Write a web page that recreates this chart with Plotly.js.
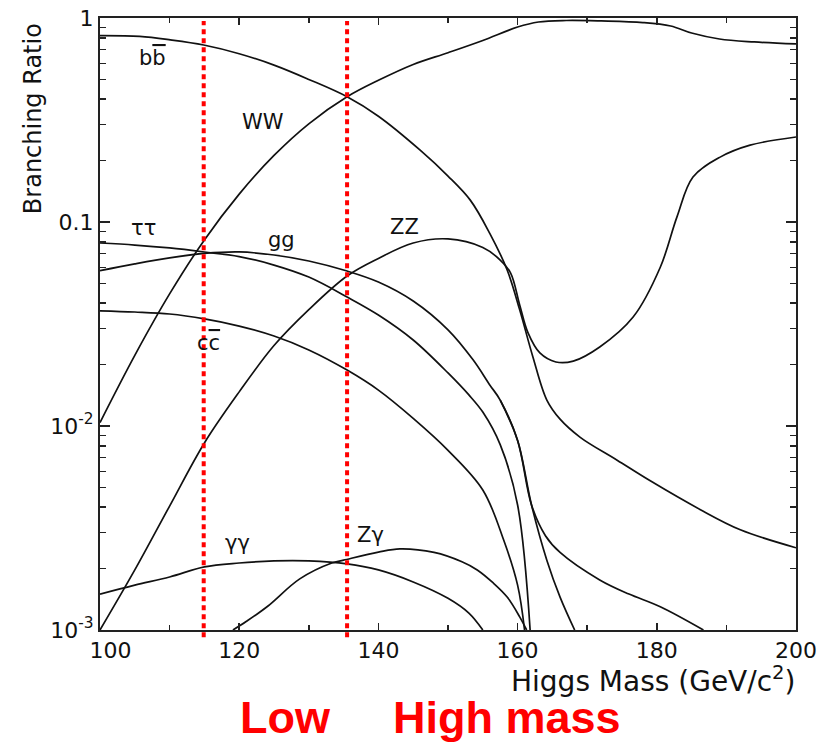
<!DOCTYPE html>
<html>
<head>
<meta charset="utf-8">
<script src="https://cdn.plot.ly/plotly-3.0.1.min.js"></script>
<style>html,body{margin:0;padding:0;background:#fff;}#chart{width:830px;height:743px;}</style>
</head>
<body>
<div id="chart"></div>
<script>
// Higgs mass (GeV/c^2) and branching ratios
const bbX = [100,105.7,110.1,114.9,120,125.1,130,135.5,140,146,150,153.2,156,158.5,160.3,162.2,164.2,166.1,169,174.3,179,186.2,192,200];
const bbY = [0.819,0.812,0.781,0.737,0.668,0.586,0.50,0.411,0.33,0.225,0.168,0.128,0.088,0.0582,0.0371,0.0218,0.0134,0.0108,0.0088,0.0068,0.0054,0.0039,0.0031,0.00253];

const wwX = [100,105,110,115,120,125,130,135.5,140,145,150,155,160,163,167,172,178,182,185,189,194,200];
const wwY = [0.0104,0.0222,0.0444,0.0817,0.137,0.212,0.303,0.411,0.495,0.592,0.676,0.776,0.903,0.956,0.972,0.967,0.95,0.914,0.844,0.789,0.763,0.746];

const zzX = [100,105,110,115,120,125,130,135.5,140,145,150,155,157.5,159,160.3,161.5,163.2,165.5,168,171.8,176.6,180.5,182.9,185.2,189.1,193.4,200];
const zzY = [0.001,0.00197,0.00405,0.00826,0.0147,0.0248,0.0372,0.0544,0.0663,0.0789,0.0826,0.075,0.0651,0.0562,0.0392,0.0286,0.0228,0.0206,0.0208,0.0244,0.0342,0.060,0.106,0.166,0.208,0.238,0.261];

const tautauX = [100,105,110,115,120,125,130,135.5,140,145,150,153,155,157.5,160,161.8];
const tautauY = [0.0789,0.0771,0.0746,0.0713,0.0677,0.0615,0.0537,0.0429,0.035,0.0264,0.0182,0.0142,0.0117,0.0081,0.0041,0.001];

const ggX = [100,105,110,115,120,125,130,135.5,140,145,150,153.6,156,157.5,160,162,164.2,166.1,168.2];
const ggY = [0.0577,0.0623,0.0667,0.0701,0.0713,0.0689,0.0644,0.0575,0.0508,0.041,0.0296,0.0211,0.0159,0.0134,0.0085,0.0041,0.0022,0.00145,0.001];

// branch that leaves the gg curve near 162 GeV and runs out to ~187 GeV
const tailX = [157.5,160,162,164,166.1,171.8,176,180.5,186.7];
const tailY = [0.0134,0.0085,0.0041,0.0029,0.0024,0.00176,0.0015,0.0013,0.001];

const ccX = [100,105,110,115,120,125,130,135.5,140,145,150,155,158,160,161];
const ccY = [0.0367,0.0362,0.0354,0.0335,0.0309,0.0276,0.0236,0.0188,0.015,0.0109,0.0076,0.00486,0.00276,0.00166,0.001];

const gamgamX = [100,105,110,115,120,125,130,135.5,140,145,150,153,155];
const gamgamY = [0.0015,0.00166,0.00182,0.00204,0.00213,0.00218,0.00218,0.00211,0.00197,0.00172,0.00143,0.00121,0.001];

const zgamX = [119.1,121,124,128.7,133.3,135,140,143.1,148,152,154.2,156.5,158.5,160.3,161.3];
const zgamY = [0.001,0.0011,0.0013,0.00178,0.00213,0.0022,0.00241,0.0025,0.0024,0.00216,0.00197,0.0017,0.00145,0.00116,0.001];

// curve labels (text, x, BR)
const labelText = ['b<span style="text-decoration:overline">b</span>','WW','\u03c4\u03c4','gg','ZZ','c<span style="text-decoration:overline">c</span>','\u03b3\u03b3','Z\u03b3'];
const labelX = [107.6,123.4,106.2,126.1,143.8,115.6,119.8,138.8];
const labelY = [0.637,0.31,0.093,0.082,0.095,0.0255,0.00267,0.00292];

// axis ticks
const xTickVals = [100,120,140,160,180,200];
const xTickText = ['\u00a0\u00a0\u00a0100','120','140','160','180','200'];
const xMinorVals = [110,130,150,170,190];
const yTickVals = [0.001,0.01,0.1,1];
const yTickText = ['10<sup>-3</sup>','10<sup>-2</sup>','0.1','1'];
const yMinorVals = [0.002,0.003,0.004,0.005,0.006,0.007,0.008,0.009,0.02,0.03,0.04,0.05,0.06,0.07,0.08,0.09,0.2,0.3,0.4,0.5,0.6,0.7,0.8,0.9];

// red marker masses
const markX = [114.9,135.5];

const FONT = 'DejaVu Sans, sans-serif';
const lineStyle = {color:'#111', width:1.7, shape:'spline', smoothing:1};
function tr(x,y){ return {x:x, y:y, type:'scatter', mode:'lines', line:lineStyle, hoverinfo:'skip', showlegend:false}; }

const data = [tr(bbX,bbY),tr(wwX,wwY),tr(zzX,zzY),tr(tautauX,tautauY),tr(ggX,ggY),tr(tailX,tailY),tr(ccX,ccY),tr(gamgamX,gamgamY),tr(zgamX,zgamY)];
// empty trace so the minor-tick overlay axes are drawn
data.push({x:[], y:[], type:'scatter', mode:'lines', xaxis:'x2', yaxis:'y2', hoverinfo:'skip', showlegend:false});

const annotations = labelText.map((t,i)=>({x:labelX[i], y:Math.log10(labelY[i]), xref:'x', yref:'y', text:t, showarrow:false, font:{family:FONT, size:21, color:'#111'}, xanchor:'center', yanchor:'middle'}));
annotations.push({x:-0.096, y:0.835, xref:'paper', yref:'paper', text:'Branching Ratio', textangle:-90, showarrow:false, font:{family:FONT, size:24, color:'#111'}, xanchor:'center', yanchor:'middle'});
annotations.push({x:1.003, y:-0.081, xref:'paper', yref:'paper', text:'Higgs Mass (GeV/c<sup>2</sup>)', showarrow:false, font:{family:FONT, size:28, color:'#111'}, xanchor:'right', yanchor:'middle'});
annotations.push({x:(285-100)/696, y:-0.143, xref:'paper', yref:'paper', text:'<b>Low</b>', showarrow:false, font:{family:'Liberation Sans, Arial, sans-serif', size:45, color:'#ff0000'}, xanchor:'center', yanchor:'middle'});
annotations.push({x:(507-100)/696, y:-0.143, xref:'paper', yref:'paper', text:'<b>High mass</b>', showarrow:false, font:{family:'Liberation Sans, Arial, sans-serif', size:45, color:'#ff0000'}, xanchor:'center', yanchor:'middle'});

const shapes = markX.map(m=>({type:'line', xref:'x', yref:'paper', x0:m, x1:m, y0:-0.012, y1:0.995, line:{color:'#ff0000', width:4, dash:'5px,4px'}}));

const tickCol = '#222';
const layout = {
  width:830, height:743,
  margin:{l:100, r:34, t:18, b:113},
  paper_bgcolor:'#fff', plot_bgcolor:'#fff',
  font:{family:FONT, color:'#111'},
  xaxis:{range:[100,200], showgrid:false, zeroline:false, showline:true, linecolor:tickCol, linewidth:2, mirror:'ticks',
         ticks:'inside', ticklen:7, tickwidth:1.6, tickcolor:tickCol, tickmode:'array', tickvals:xTickVals, ticktext:xTickText,
         tickfont:{family:FONT, size:22, color:'#111'}},
  xaxis2:{range:[100,200], overlaying:'x', anchor:'y2', side:'bottom', showgrid:false, zeroline:false, showline:false, mirror:'ticks',
          ticks:'inside', ticklen:5, tickwidth:1.6, tickcolor:tickCol, tickmode:'array', tickvals:xMinorVals, showticklabels:false},
  yaxis:{type:'log', range:[-3,0], showgrid:false, zeroline:false, showline:true, linecolor:tickCol, linewidth:2, mirror:'ticks',
         ticks:'inside', ticklen:10, tickwidth:1.6, tickcolor:tickCol, tickmode:'array', tickvals:yTickVals, ticktext:yTickText,
         tickfont:{family:FONT, size:22, color:'#111'}},
  yaxis2:{type:'log', range:[-3,0], overlaying:'y', anchor:'x2', side:'left', showgrid:false, zeroline:false, showline:false, mirror:'ticks',
          ticks:'inside', ticklen:6, tickwidth:1.5, tickcolor:tickCol, tickmode:'array', tickvals:yMinorVals, showticklabels:false},
  annotations:annotations,
  shapes:shapes
};

Plotly.newPlot('chart', data, layout, {staticPlot:true});
</script>
</body>
</html>
